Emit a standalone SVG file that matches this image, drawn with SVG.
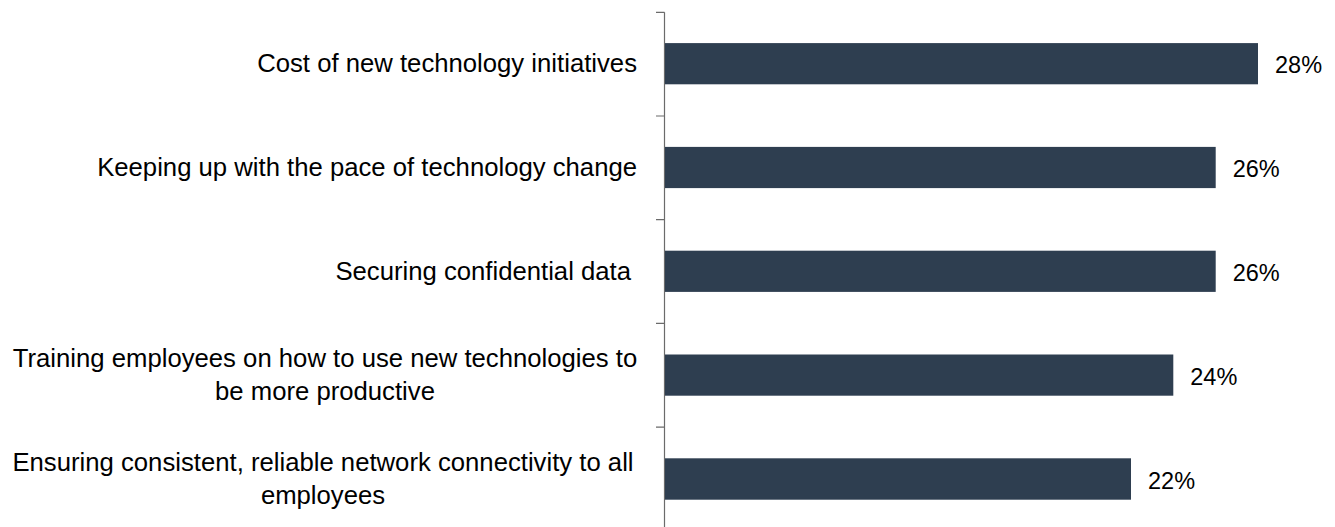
<svg xmlns="http://www.w3.org/2000/svg" width="1335" height="527" viewBox="0 0 1335 527">
<style>
.bar{fill:#2e3e50;}
.lbl{font-family:"Liberation Sans",Arial,sans-serif;font-size:25.7px;fill:#000;}
.val{font-family:"Liberation Sans",Arial,sans-serif;font-size:23.5px;fill:#000;}
.axis{stroke:#6b6b6b;stroke-width:1.2;fill:none;}
</style>
<rect width="1335" height="527" fill="#fff"/>
<g id="axis">
<path class="axis" d="M664.5,12.3 V527 M656,12.3 H664.5 M656,116 H664.5 M656,219.7 H664.5 M656,323.4 H664.5 M656,427.1 H664.5"/>
</g>
<g id="bar1">
<rect class="bar" x="665" y="43.1" width="593" height="41.2"/>
<text class="lbl" x="637" y="72.3" text-anchor="end">Cost of new technology initiatives</text>
<text class="val" x="1275" y="73.3">28%</text>
</g>
<g id="bar2">
<rect class="bar" x="665" y="146.9" width="550.7" height="41.2"/>
<text class="lbl" x="637" y="176.1" text-anchor="end">Keeping up with the pace of technology change</text>
<text class="val" x="1232.7" y="177.1">26%</text>
</g>
<g id="bar3">
<rect class="bar" x="665" y="250.7" width="550.7" height="41.2"/>
<text class="lbl" x="631" y="279.9" text-anchor="end">Securing confidential data</text>
<text class="val" x="1232.7" y="280.9">26%</text>
</g>
<g id="bar4">
<rect class="bar" x="665" y="354.5" width="508.3" height="41.2"/>
<text class="lbl" x="325" y="366.7" text-anchor="middle">Training employees on how to use new technologies to</text>
<text class="lbl" x="325" y="400" text-anchor="middle">be more productive</text>
<text class="val" x="1190.3" y="384.7">24%</text>
</g>
<g id="bar5">
<rect class="bar" x="665" y="458.3" width="466" height="41.4"/>
<text class="lbl" x="323" y="470.7" text-anchor="middle">Ensuring consistent, reliable network connectivity to all</text>
<text class="lbl" x="323" y="504" text-anchor="middle">employees</text>
<text class="val" x="1148" y="489">22%</text>
</g>
</svg>
